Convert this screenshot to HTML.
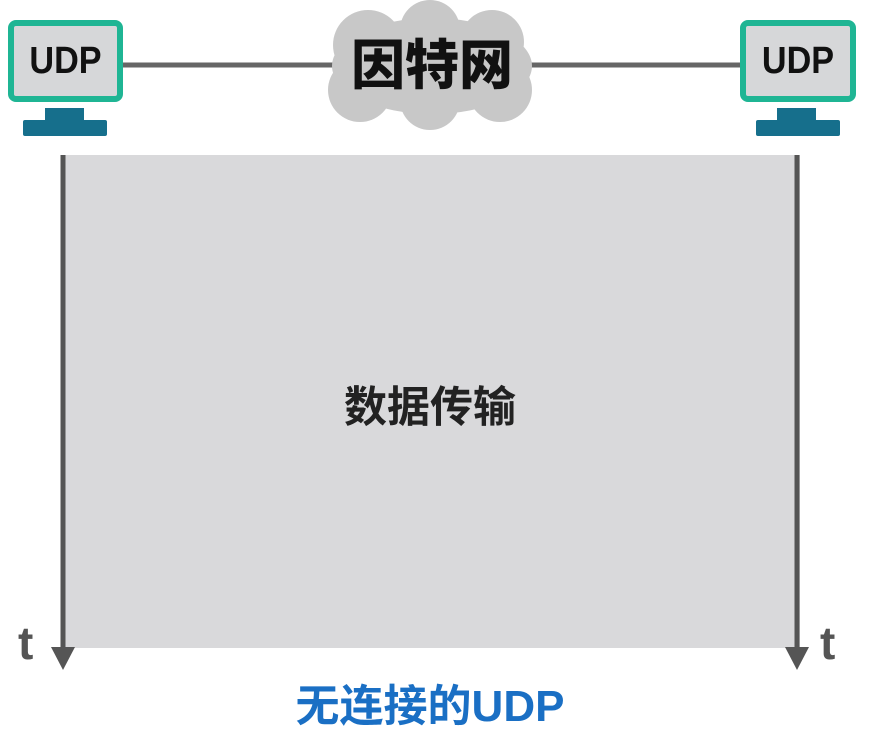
<!DOCTYPE html>
<html><head><meta charset="utf-8"><style>
body{margin:0;width:874px;height:739px;background:#fff;overflow:hidden;position:relative;font-family:"Liberation Sans","Noto Sans CJK SC",sans-serif}
.a{position:absolute}
</style></head><body>
<svg class="a" style="left:0;top:0" width="874" height="739">
<rect x="63" y="155" width="737" height="493" fill="#d9d9db"/>
<line x1="120" y1="65" x2="745" y2="65" stroke="#666" stroke-width="5"/>
<g fill="#c8c8c8">
<ellipse cx="432" cy="66" rx="100" ry="48"/>
<circle cx="368" cy="45" r="35"/><circle cx="430" cy="30" r="30"/><circle cx="492" cy="42" r="32"/>
<circle cx="360" cy="90" r="32"/><circle cx="430" cy="100" r="30"/><circle cx="500" cy="90" r="32"/>
</g>
<g fill="#d6d7d9" stroke="#1fb594" stroke-width="6">
<rect x="11" y="23" width="109" height="76" rx="5"/>
<rect x="743" y="23" width="110" height="76" rx="5"/>
</g>
<g fill="#166f8c">
<rect x="45" y="108" width="39" height="14"/><rect x="23" y="120" width="84" height="16" rx="2"/>
<rect x="777" y="108" width="39" height="14"/><rect x="756" y="120" width="84" height="16" rx="2"/>
</g>
<g stroke="#555" stroke-width="5"><line x1="63" y1="155" x2="63" y2="650"/><line x1="797" y1="155" x2="797" y2="650"/></g>
<g fill="#555"><polygon points="51,647 75,647 63,670"/><polygon points="785,647 809,647 797,670"/></g>
</svg>
<div class="a" style="left:8px;top:40px;width:115px;text-align:center;font-size:38px;font-weight:bold;color:#111;transform:scaleX(0.9)">UDP</div>
<div class="a" style="left:740px;top:40px;width:116px;text-align:center;font-size:38px;font-weight:bold;color:#111;transform:scaleX(0.9)">UDP</div>
<div class="a" style="left:312px;top:36px;width:240px;text-align:center;font-size:54px;font-weight:900;color:#111;line-height:60px">因特网</div>
<div class="a" style="left:230px;top:382px;width:400px;text-align:center;font-size:43px;font-weight:bold;color:#222;line-height:52px">数据传输</div>
<div class="a" style="left:18px;top:616px;font-size:46px;font-weight:bold;color:#555">t</div>
<div class="a" style="left:820px;top:616px;font-size:46px;font-weight:bold;color:#555">t</div>
<div class="a" style="left:180px;top:680px;width:500px;text-align:center;font-size:44px;font-weight:bold;color:#1a6fc4;line-height:54px">无连接的UDP</div>
</body></html>
